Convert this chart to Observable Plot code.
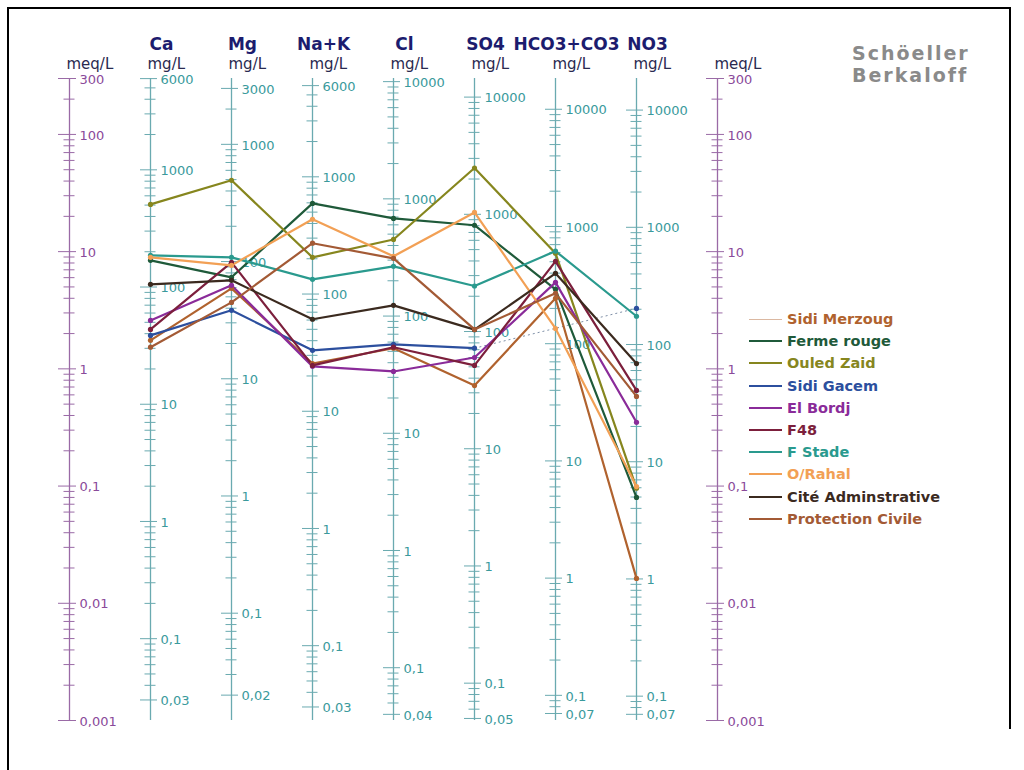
<!DOCTYPE html>
<html>
<head>
<meta charset="utf-8">
<script src="https://cdn.jsdelivr.net/npm/d3@7"></script>
<script src="https://cdn.jsdelivr.net/npm/@observablehq/plot@0.6"></script>
<style>
  body { margin: 0; background: #fff; font-family: "DejaVu Sans", sans-serif; }
  #wrap { position: relative; width: 1024px; height: 770px; overflow: hidden; }
  #chart { position: absolute; left: 0; top: 0; }
  .frame { position: absolute; left: 7px; top: 7px; width: 1000px; height: 720px;
           border: 2px solid #000; border-bottom: none; }
  .frame-left { position: absolute; left: 7px; top: 7px; width: 2px; height: 770px; background: #000; }
  #title { position: absolute; left: 852px; top: 42px; color: #8a8a8a; font-weight: bold;
           font-size: 19px; line-height: 22px; letter-spacing: 2px; }
  #legend { position: absolute; left: 749px; top: 308px; }
  .item { display: flex; align-items: center; height: 22.2px; font-weight: bold; font-size: 14.5px; }
  .sw { width: 33px; height: 2px; margin-right: 5px; }
</style>
</head>
<body>
<div id="wrap">
  <div id="chart"></div>
  <div class="frame"></div>
  <div class="frame-left"></div>
  <div id="title">Schöeller<br>Berkaloff</div>
  <div id="legend"></div>
</div>
<script>
// Vertical scales: left meq/L, the seven ions (mg/L), right meq/L
const columns = ["meqL", "Ca", "Mg", "NaK", "Cl", "SO4", "HCO3", "NO3", "meqR"];
const ionKeys = ["Ca", "Mg", "NaK", "Cl", "SO4", "HCO3", "NO3"];
const ionNames = ["Ca", "Mg", "Na+K", "Cl", "SO4", "HCO3+CO3", "NO3"];
// mg per meq for each ion
const equivalentWeights = [20.04, 12.15, 23.0, 35.45, 48.03, 61.0, 62.0];

// Labelled values on each scale
const meqLabels = [300, 100, 10, 1, 0.1, 0.01, 0.001];
const mgLabels = [
  [6000, 1000, 100, 10, 1, 0.1, 0.03],
  [3000, 1000, 100, 10, 1, 0.1, 0.02],
  [6000, 1000, 100, 10, 1, 0.1, 0.03],
  [10000, 1000, 100, 10, 1, 0.1, 0.04],
  [10000, 1000, 100, 10, 1, 0.1, 0.05],
  [10000, 1000, 100, 10, 1, 0.1, 0.07],
  [10000, 1000, 100, 10, 1, 0.1, 0.07]
];

// Water points
const samples = ["Sidi Merzoug", "Ferme rouge", "Ouled Zaid", "Sidi Gacem", "El Bordj",
                 "F48", "F Stade", "O/Rahal", "Cité Adminstrative", "Protection Civile"];
const sampleColors = ["#b0622e", "#1f5a3a", "#86861e", "#2c4f9e", "#8a2b99",
                      "#7c1f3c", "#2a9a8e", "#f2a055", "#3b2a1f", "#a35a35"];

// Concentrations in meq/L: Ca, Mg, Na+K, Cl, SO4, HCO3+CO3, NO3 (null = not measured)
const sidiMerzoug      = [1.75, 4.86, 1.11, 1.50, 0.72, 4.00, 0.0163];
const fermeRouge       = [8.43, 6.04, 25.8, 19.2, 16.8, 4.77, 0.080];
const ouledZaid        = [25.3, 40.6, 8.94, 12.7, 51.7, 9.67, 0.096];
const sidiGacem        = [1.93, 3.16, 1.44, 1.62, 1.50, null, 3.28];
const elBordj          = [2.59, 5.16, 1.05, 0.95, 1.25, 5.47, 0.350];
const f48              = [2.17, 8.10, 1.07, 1.53, 1.07, 8.27, 0.655];
const fStade           = [9.30, 8.94, 5.80, 7.49, 5.09, 10.1, 2.81];
const oRahal           = [8.94, 7.64, 18.9, 9.12, 21.6, 2.21, 0.099];
const citeAdm          = [5.26, 5.69, 2.65, 3.48, 2.16, 6.53, 1.11];
const protectionCivile = [1.53, 3.69, 11.8, 8.77, 2.17, 4.41, 0.582];

const sampleValues = [sidiMerzoug, fermeRouge, ouledZaid, sidiGacem, elBordj,
                      f48, fStade, oRahal, citeAdm, protectionCivile];

const MEQ_MIN = 0.001, MEQ_MAX = 300;
const PURPLE_AXIS = "#9a6aa6", PURPLE_TEXT = "#8a4a9a";
const TEAL_AXIS = "#6aaab0", TEAL_TEXT = "#3a9a9c";

// Long table of measurements
const rows = [];
samples.forEach((s, i) => ionKeys.forEach((ion, j) => {
  const v = sampleValues[i][j];
  rows.push({sample: s, ion, meq: v == null ? NaN : v});
}));

// Dotted bridges across unmeasured ions
const gaps = [];
samples.forEach((s, i) => {
  let last = -1;
  sampleValues[i].forEach((v, j) => {
    if (v == null) return;
    if (last >= 0 && j - last > 1)
      gaps.push({x1: ionKeys[last], y1: sampleValues[i][last], x2: ionKeys[j], y2: v});
    last = j;
  });
});

// Tick marks (k x 10^n) for every scale, expressed in meq/L
const fmt = v => String(v).replace(".", ",");
const ticks = [], labels = [];
function addScale(col, weight, labelled, major) {
  for (let n = -3; n <= 5; n++) {
    for (let k = 1; k <= 9; k++) {
      const v = +(k * 10 ** n).toPrecision(12);
      const meq = v / weight;
      if (meq < MEQ_MIN * 0.9999 || meq > MEQ_MAX * 1.0001) continue;
      ticks.push({col, meq, major: labelled.includes(v), meqAxis: major});
    }
  }
  labelled.forEach(v => labels.push({col, meq: v / weight, text: fmt(v), meqAxis: major}));
}
addScale("meqL", 1, meqLabels, true);
addScale("meqR", 1, meqLabels, true);
ionKeys.forEach((ion, j) => addScale(ion, equivalentWeights[j], mgLabels[j], false));

const isMeq = c => c === "meqL" || c === "meqR";

const chart = Plot.plot({
  width: 1024,
  height: 770,
  marginLeft: 66,
  marginRight: 304,
  marginTop: 78,
  marginBottom: 50,
  x: {type: "point", domain: columns, padding: 0, axis: null},
  y: {type: "log", domain: [MEQ_MIN, MEQ_MAX], axis: null},
  color: {domain: samples, range: sampleColors},
  style: {fontFamily: "DejaVu Sans, sans-serif", background: "transparent", overflow: "visible"},
  marks: [
    // scale lines
    Plot.ruleX(columns.filter(isMeq), {x: d => d, y1: MEQ_MIN, y2: MEQ_MAX, stroke: PURPLE_AXIS, strokeWidth: 1.3}),
    Plot.ruleX(ionKeys, {x: d => d, y1: MEQ_MIN, y2: MEQ_MAX, stroke: TEAL_AXIS, strokeWidth: 1.3}),
    // tick marks
    Plot.ruleY(ticks.filter(t => t.meqAxis && t.major), {x1: "col", x2: "col", y: "meq", stroke: PURPLE_AXIS, insetLeft: -11, insetRight: -7}),
    Plot.ruleY(ticks.filter(t => t.meqAxis && !t.major), {x1: "col", x2: "col", y: "meq", stroke: PURPLE_AXIS, insetLeft: -5.5, insetRight: -5.5}),
    Plot.ruleY(ticks.filter(t => !t.meqAxis && t.major), {x1: "col", x2: "col", y: "meq", stroke: TEAL_AXIS, insetLeft: -10, insetRight: -7}),
    Plot.ruleY(ticks.filter(t => !t.meqAxis && !t.major), {x1: "col", x2: "col", y: "meq", stroke: TEAL_AXIS, insetLeft: -5.5, insetRight: -5.5}),
    // tick labels
    Plot.text(labels.filter(l => l.meqAxis), {x: "col", y: "meq", text: "text", dx: 10, dy: 1, textAnchor: "start", fill: PURPLE_TEXT, fontSize: 13}),
    Plot.text(labels.filter(l => !l.meqAxis), {x: "col", y: "meq", text: "text", dx: 10, dy: 1, textAnchor: "start", fill: TEAL_TEXT, fontSize: 13}),
    // headers
    Plot.text(ionKeys, {x: d => d, text: (d, i) => ionNames[i], frameAnchor: "top", dy: -41, dx: 11,
                        fontWeight: "bold", fontSize: 17, fill: "#1c1c6e"}),
    Plot.text(columns, {x: d => d, text: d => isMeq(d) ? "meq/L" : "mg/L", frameAnchor: "top", dy: -20, dx: -3,
                        textAnchor: "start", fontSize: 15, fill: "#2a2a50"}),
    // water points
    Plot.link(gaps, {x1: "x1", y1: "y1", x2: "x2", y2: "y2", stroke: "#7d8ea6", strokeWidth: 1, strokeDasharray: "2,3"}),
    Plot.line(rows, {x: "ion", y: "meq", z: "sample", stroke: "sample", strokeWidth: 2.2}),
    Plot.dot(rows.filter(r => !isNaN(r.meq)), {x: "ion", y: "meq", fill: "sample", r: 2.6})
  ]
});
document.getElementById("chart").append(chart);

// Legend
const legend = document.getElementById("legend");
samples.forEach((s, i) => {
  const item = document.createElement("div");
  item.className = "item";
  item.style.color = sampleColors[i];
  const sw = document.createElement("span");
  sw.className = "sw";
  sw.style.background = sampleColors[i];
  if (i === 0) { sw.style.height = "1px"; sw.style.opacity = "0.45"; }
  item.append(sw, document.createTextNode(s));
  legend.append(item);
});
</script>
</body>
</html>
